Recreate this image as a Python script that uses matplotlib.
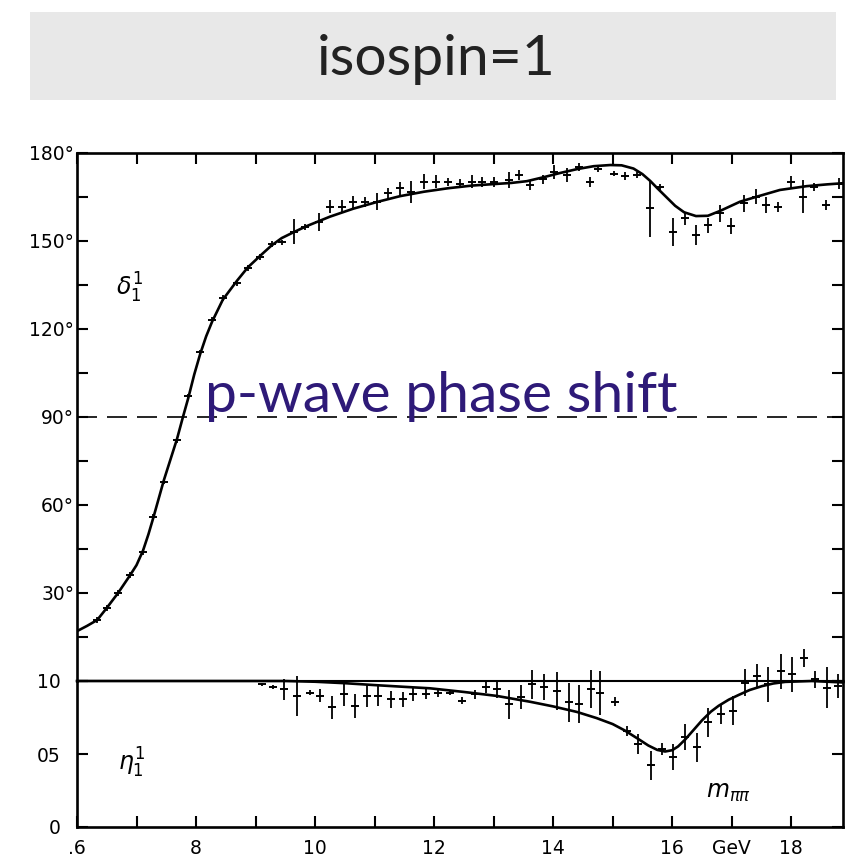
import numpy as np
import matplotlib.pyplot as plt
from matplotlib.patches import Rectangle

# delta_1^1 phase shift (deg) vs m_pipi (GeV)
delta_m = [0.634, 0.650, 0.669, 0.689, 0.711, 0.728, 0.746, 0.768, 0.787, 0.807,
           0.827, 0.845, 0.869, 0.887, 0.908, 0.927, 0.944, 0.964, 0.983, 1.006,
           1.025, 1.045, 1.064, 1.084, 1.104, 1.123, 1.143, 1.162, 1.183, 1.203,
           1.224, 1.244, 1.263, 1.280, 1.300, 1.325, 1.342, 1.361, 1.383, 1.402,
           1.423, 1.443, 1.462, 1.476, 1.502, 1.521, 1.541, 1.562, 1.580, 1.601,
           1.621, 1.640, 1.660, 1.680, 1.699, 1.720, 1.740, 1.758, 1.778, 1.799,
           1.819, 1.838, 1.859, 1.880]
delta_val = [20.8, 24.9, 30.0, 36.0, 44.0, 55.8, 68.0, 82.0, 97.0, 112.0,
             123.0, 130.6, 135.7, 140.8, 144.5, 149.0, 149.5, 153.2, 154.9, 156.6,
             161.7, 161.7, 163.4, 163.4, 163.4, 166.2, 167.9, 166.8, 170.2, 170.2,
             170.2, 169.6, 170.2, 170.2, 170.2, 170.8, 172.5, 169.1, 171.0, 173.6,
             172.5, 175.3, 170.2, 174.7, 173.0, 172.1, 172.5, 161.1, 168.5, 153.2,
             157.7, 152.0, 155.4, 159.4, 155.1, 162.8, 165.1, 162.3, 161.7, 170.2,
             165.1, 168.5, 162.3, 169.6]
delta_err = [1.0, 1.0, 1.0, 1.0, 1.0, 1.0, 1.0, 1.0, 1.0, 1.0,
             1.0, 1.0, 1.0, 1.0, 1.0, 1.0, 1.0, 4.3, 1.0, 3.1,
             2.3, 2.3, 2.0, 1.7, 2.8, 2.0, 2.3, 3.7, 2.6, 2.3,
             1.4, 1.5, 2.3, 1.7, 1.7, 2.6, 1.7, 1.7, 1.4, 2.3,
             2.3, 1.4, 1.7, 1.2, 1.0, 1.4, 1.0, 9.7, 1.0, 4.8,
             2.3, 3.4, 2.6, 2.8, 2.6, 2.8, 2.6, 2.6, 1.7, 2.0,
             5.7, 1.4, 1.7, 2.0]

# fitted curve for delta
fit_delta_m = [0.600, 0.617, 0.634, 0.650, 0.669, 0.689, 0.700, 0.711, 0.720, 0.728,
               0.737, 0.746, 0.757, 0.768, 0.778, 0.787, 0.797, 0.807, 0.817, 0.827,
               0.845, 0.869, 0.887, 0.908, 0.927, 0.944, 0.964, 0.985, 1.025, 1.064,
               1.104, 1.143, 1.183, 1.224, 1.264, 1.300, 1.330, 1.356, 1.385, 1.412,
               1.440, 1.468, 1.496, 1.515, 1.535, 1.550, 1.563, 1.575, 1.590, 1.605,
               1.620, 1.640, 1.660, 1.681, 1.714, 1.742, 1.781, 1.826, 1.860, 1.887]
fit_delta = [17.0, 18.8, 20.8, 24.9, 30.0, 36.0, 39.5, 44.5, 50.0, 55.5,
             62.0, 68.5, 75.5, 82.5, 90.0, 96.5, 104.5, 111.5, 117.5, 122.5,
             130.0, 136.5, 141.0, 145.0, 148.5, 151.0, 153.0, 155.0, 158.3, 161.0,
             163.3, 165.3, 166.8, 168.0, 168.9, 169.4, 169.8, 170.4, 171.8, 173.2,
             174.5, 175.5, 175.9, 175.8, 174.7, 172.8, 170.5, 168.0, 165.0, 162.0,
             159.8, 158.5, 158.6, 160.3, 163.4, 165.1, 167.4, 168.7, 169.3, 169.7]

# eta_1^1 inelasticity
eta_m = [0.910, 0.929, 0.947, 0.969, 0.991, 1.008, 1.028, 1.048, 1.067, 1.087,
         1.106, 1.127, 1.147, 1.165, 1.187, 1.207, 1.227, 1.247, 1.269, 1.287,
         1.305, 1.326, 1.346, 1.365, 1.385, 1.406, 1.426, 1.444, 1.464, 1.479,
         1.504, 1.524, 1.543, 1.565, 1.583, 1.602, 1.622, 1.642, 1.661, 1.682,
         1.702, 1.723, 1.742, 1.761, 1.782, 1.801, 1.821, 1.840, 1.860, 1.878]
eta_val = [0.977, 0.959, 0.943, 0.898, 0.921, 0.898, 0.819, 0.909, 0.830, 0.898,
           0.898, 0.875, 0.875, 0.909, 0.909, 0.921, 0.921, 0.864, 0.909, 0.960,
           0.943, 0.841, 0.890, 0.977, 0.960, 0.932, 0.853, 0.841, 0.943, 0.920,
           0.859, 0.660, 0.569, 0.422, 0.535, 0.478, 0.614, 0.546, 0.716, 0.773,
           0.796, 0.989, 1.034, 0.977, 1.068, 1.045, 1.159, 1.011, 0.955, 0.966]
eta_err = [0.010, 0.015, 0.070, 0.136, 0.020, 0.045, 0.080, 0.080, 0.080, 0.074,
           0.068, 0.057, 0.050, 0.045, 0.034, 0.030, 0.020, 0.023, 0.030, 0.040,
           0.057, 0.100, 0.080, 0.100, 0.090, 0.130, 0.136, 0.130, 0.130, 0.150,
           0.030, 0.034, 0.070, 0.100, 0.040, 0.090, 0.090, 0.100, 0.100, 0.070,
           0.100, 0.090, 0.085, 0.120, 0.120, 0.120, 0.060, 0.060, 0.140, 0.080]

fit_eta_m = [0.600, 0.950, 1.000, 1.050, 1.100, 1.150, 1.193, 1.250, 1.305, 1.361,
             1.400, 1.440, 1.473, 1.500, 1.520, 1.543, 1.560, 1.575, 1.588, 1.600,
             1.610, 1.622, 1.636, 1.650, 1.665, 1.678, 1.695, 1.712, 1.730, 1.751,
             1.770, 1.790, 1.835, 1.887]
fit_eta = [1.000, 1.000, 0.995, 0.985, 0.972, 0.960, 0.950, 0.925, 0.898, 0.858,
           0.826, 0.788, 0.746, 0.705, 0.662, 0.603, 0.558, 0.528, 0.517, 0.526,
           0.552, 0.600, 0.665, 0.730, 0.790, 0.830, 0.872, 0.905, 0.938, 0.965,
           0.983, 0.994, 1.000, 0.990]

x_tick_labels = ['.6', '', '8', '', '10', '', '12', '', '14', '', '16', 'GeV', '18']
deg_tick_labels = ['', '30°', '60°', '90°', '120°', '150°', '180°']
eta_tick_labels = ['0', '05', '10']

xmin, xmax = 0.6, 1.887
x_ticks = np.arange(0.6, 1.85, 0.1)

fig = plt.figure(figsize=(8.66, 8.59), dpi=100)

# title banner
fig.patches.append(Rectangle((30 / 866, 1 - 100 / 859), 806 / 866, 88 / 859,
                             transform=fig.transFigure, facecolor='#e8e8e8',
                             edgecolor='none'))
fig.text(436 / 866, 1 - 75 / 859, 'isospin=1', ha='center', va='baseline',
         fontsize=41, family='Lato', color='#222222')

ax1 = fig.add_axes([77 / 866, 1 - 681 / 859, 766 / 866, 528 / 859])
ax2 = fig.add_axes([77 / 866, 1 - 827 / 859, 766 / 866, 146 / 859])
ax2.set_zorder(ax1.get_zorder() + 1)
ax2.patch.set_visible(False)

# upper panel: phase shift
ax1.plot(fit_delta_m, fit_delta, color='black', lw=1.9)
ax1.errorbar(delta_m, delta_val, yerr=delta_err, fmt='_', color='black',
             ms=6, mew=1.4, elinewidth=1.3, capsize=0)
ax1.axhline(90, color='black', lw=1.2, dashes=(12, 6))
ax1.set_xlim(xmin, xmax)
ax1.set_ylim(0, 180)
ax1.set_yticks(np.arange(0, 181, 30))
ax1.set_yticklabels(deg_tick_labels)
ax1.set_yticks(np.arange(15, 180, 30), minor=True)
ax1.set_xticks(x_ticks)
ax1.tick_params(which='both', direction='in', length=8, width=1.5,
                top=True, right=True, bottom=False, labelbottom=False,
                labelsize=13.5, pad=2)
ax1.spines['bottom'].set_visible(False)
for s in ['left', 'right', 'top']:
    ax1.spines[s].set_linewidth(1.9)
ax1.text(0.689, 134, r'$\delta_1^1$', fontsize=17, ha='center', va='center')

# lower panel: inelasticity
ax2.plot(fit_eta_m, fit_eta, color='black', lw=1.9, clip_on=False)
cont = ax2.errorbar(eta_m, eta_val, yerr=eta_err, fmt='_', color='black',
                    ms=6, mew=1.4, elinewidth=1.3, capsize=0)
for art in cont.get_children():
    art.set_clip_on(False)
ax2.set_xlim(xmin, xmax)
ax2.set_ylim(0, 1.0)
ax2.set_yticks([0, 0.5, 1.0])
ax2.set_yticklabels(eta_tick_labels)
ax2.set_xticks(x_ticks)
ax2.set_xticklabels(x_tick_labels)
ax2.tick_params(direction='in', length=8, width=1.5, right=True, top=False,
                labelsize=13.5)
ax2.tick_params(axis='y', pad=12)
ax2.tick_params(axis='x', pad=9)
for s in ['left', 'right', 'bottom']:
    ax2.spines[s].set_linewidth(1.9)
ax2.spines['top'].set_linewidth(1.5)
ax2.text(0.691, 0.44, r'$\eta_1^1$', fontsize=17, ha='center', va='center')
ax2.text(1.694, 0.24, r'$m_{\pi\pi}$', fontsize=17, ha='center', va='center')

fig.text(205 / 866, 1 - 412 / 859, 'p-wave phase shift', ha='left',
         va='baseline', fontsize=41, family='Lato', color='#2e1a78')

fig.savefig('out.png', dpi=100)
